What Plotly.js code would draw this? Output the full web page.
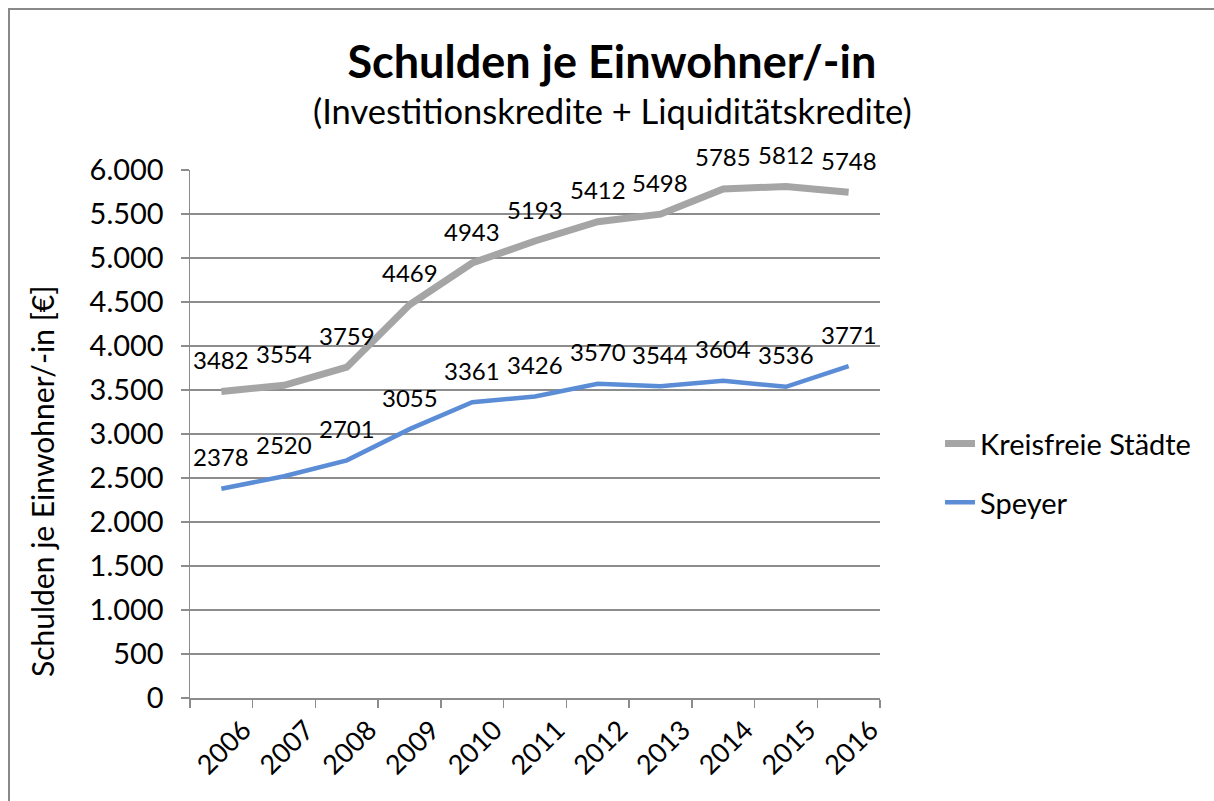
<!DOCTYPE html>
<html>
<head>
<meta charset="utf-8">
<script src="https://cdn.plot.ly/plotly-3.0.1.min.js"></script>
<style>
  html, body { margin: 0; padding: 0; overflow: hidden; background: #ffffff; }
  #frame { position: absolute; left: 8px; top: 8px; width: 1400px; height: 1000px;
           border-left: 2px solid #898989; border-top: 2px solid #898989; }
  #chart { position: absolute; left: 0; top: 0; width: 1214px; height: 801px; }
</style>
</head>
<body>
<div id="frame"></div>
<div id="chart"></div>
<script>
const years = ["2006","2007","2008","2009","2010","2011","2012","2013","2014","2015","2016"];
const kreisfreieStaedte = [3482,3554,3759,4469,4943,5193,5412,5498,5785,5812,5748];
const speyer = [2378,2520,2701,3055,3361,3426,3570,3544,3604,3536,3771];
const seriesNames = ["Kreisfreie Städte", "Speyer"];
const yTickValues = [0,500,1000,1500,2000,2500,3000,3500,4000,4500,5000,5500,6000];
const titleText = "Schulden je Einwohner/-in";
const subtitleText = "(Investitionskredite + Liquiditätskredite)";
const yTitleText = "Schulden je Einwohner/-in [€]";

const FONT = "Lato, 'Open Sans', sans-serif";
const GRID = "#8c8c8c";

const traces = [
  { x: years, y: kreisfreieStaedte, name: seriesNames[0], type: "scatter", mode: "lines",
    line: { color: "#a5a5a5", width: 7 }, legendgroup: "a", hoverinfo: "skip" },
  { x: years, y: speyer, name: seriesNames[1], type: "scatter", mode: "lines",
    line: { color: "#5b8dd6", width: 4.5 }, legendgroup: "b", hoverinfo: "skip" }
];

const annotations = [];
[kreisfreieStaedte, speyer].forEach(function (arr) {
  arr.forEach(function (v, i) {
    annotations.push({ x: i, y: v, xref: "x", yref: "y", text: String(v),
      showarrow: false, yshift: 32, xanchor: "center", yanchor: "middle",
      font: { family: FONT, size: 24, color: "#000" } });
  });
});
// subtitle
annotations.push({ x: 0.6116, y: 1.1136, xref: "paper", yref: "paper", text: subtitleText,
  showarrow: false, xanchor: "center", yanchor: "middle",
  font: { family: FONT, size: 34.5, color: "#000" } });
// y axis title (placed like the reference, below the axis centre)
annotations.push({ x: -0.2145, y: 0.411, xref: "paper", yref: "paper", text: yTitleText,
  showarrow: false, textangle: -90, xanchor: "center", yanchor: "middle",
  font: { family: FONT, size: 30, color: "#000" } });

const layout = {
  width: 1214, height: 801,
  paper_bgcolor: "rgba(0,0,0,0)", plot_bgcolor: "rgba(0,0,0,0)",
  separators: ",.",
  margin: { l: 190, r: 334, t: 170, b: 103 },
  font: { family: FONT, color: "#000" },
  title: {
    text: "<b>" + titleText + "</b>",
    font: { family: FONT, size: 45, color: "#000" },
    x: 0.504, xanchor: "center", xref: "container",
    y: 0.9226, yanchor: "middle", yref: "container"
  },
  xaxis: {
    type: "category", range: [-0.5, 10.5],
    tickson: "boundaries", ticks: "outside", ticklen: 8, tickwidth: 1.5, tickcolor: GRID,
    showline: true, linecolor: GRID, linewidth: 1.5,
    showgrid: false, zeroline: false,
    tickangle: -45, ticklabelshift: 22, ticklabelstandoff: 4,
    tickfont: { family: FONT, size: 27, color: "#000" }
  },
  yaxis: {
    range: [0, 6000], tickvals: yTickValues, tickformat: ",d",
    ticks: "outside", ticklen: 8, tickwidth: 1.5, tickcolor: GRID,
    showline: true, linecolor: GRID, linewidth: 1.5,
    showgrid: true, gridcolor: GRID, gridwidth: 1.5, zeroline: false,
    ticklabelstandoff: 11,
    tickfont: { family: FONT, size: 29, color: "#000" }
  },
  showlegend: true,
  legend: {
    x: 1.087, xanchor: "left", y: 0.53, yanchor: "top",
    font: { family: FONT, size: 29, color: "#000" },
    bgcolor: "rgba(0,0,0,0)", tracegroupgap: 18, traceorder: "grouped", itemwidth: 30
  },
  annotations: annotations
};

Plotly.newPlot("chart", traces, layout, { displayModeBar: false, staticPlot: true });
</script>
</body>
</html>
